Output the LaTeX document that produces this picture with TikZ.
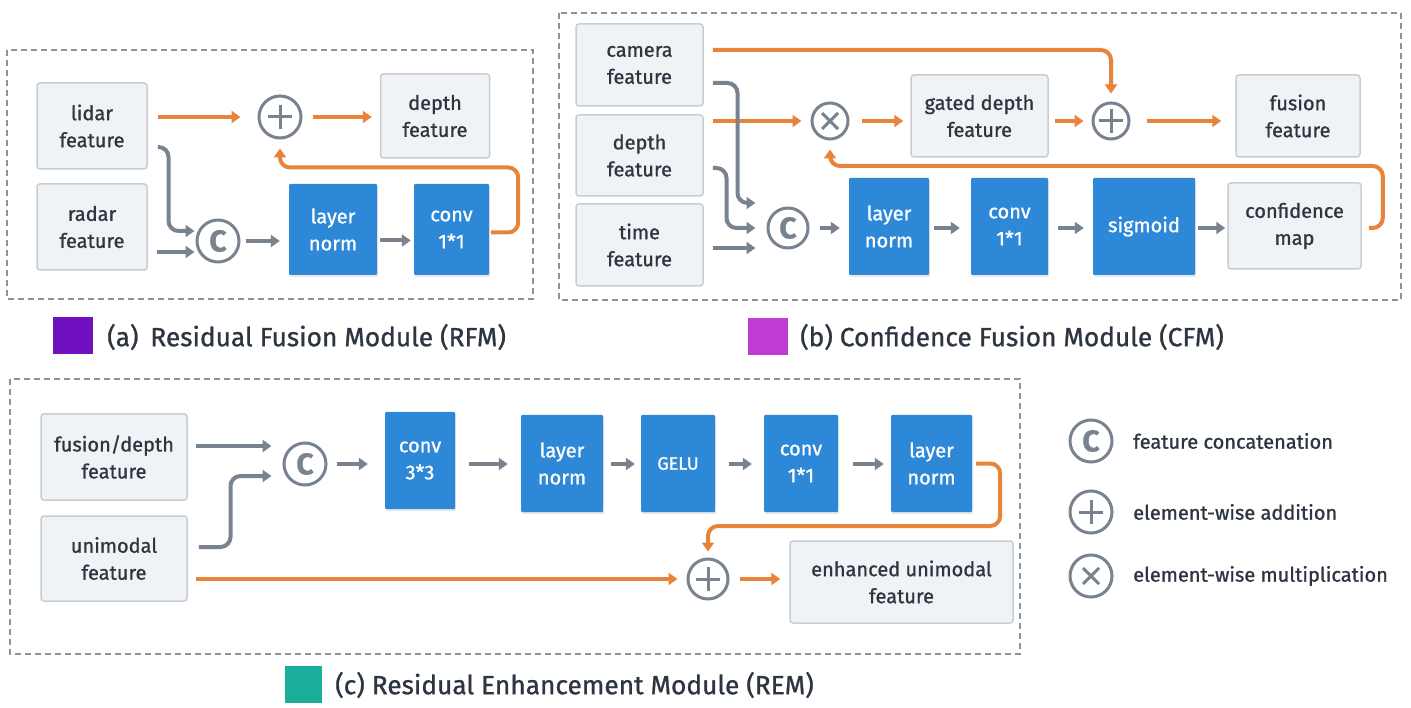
\documentclass[tikz,border=0pt]{standalone}
\usepackage{fontspec}
\setmainfont{Fira Sans}[FakeBold=1.0]
\usetikzlibrary{arrows.meta,calc,shadows}
\definecolor{gline}{HTML}{78838F}
\definecolor{orng}{HTML}{E8843A}
\definecolor{bluebx}{HTML}{2E88D8}
\definecolor{grayfill}{HTML}{F0F3F6}
\definecolor{grayedge}{HTML}{C6CDD4}
\definecolor{txt}{HTML}{2C3540}
\definecolor{framec}{HTML}{8A949E}
\definecolor{purp}{HTML}{7010C0}
\definecolor{magn}{HTML}{C03CD4}
\definecolor{teal}{HTML}{1AAE9B}
\begin{document}
\begin{tikzpicture}[x=1pt,y=-1pt,
  frame/.style={draw=framec, line width=1.6pt, dash pattern=on 6pt off 4pt},
  graybox/.style={draw=grayedge, fill=grayfill, line width=1.5pt, rounded corners=3pt, align=center, text=txt, font=\fontsize{20}{27}\selectfont, inner sep=0pt},
  bluebox/.style={fill=bluebx, align=center, text=white, font=\fontsize{20}{27}\selectfont, inner sep=0pt, rounded corners=1pt, drop shadow={opacity=0.18, shadow xshift=1pt, shadow yshift=-2pt}},
  opc/.style={circle, draw=gline, line width=3pt, fill=white, inner sep=0pt, minimum size=#1},
  concat/.style={opc=#1, text=gline, font=\fontsize{30}{30}\selectfont\bfseries},
  addop/.style={opc=#1, path picture={\draw[gline, line width=3pt] ($(path picture bounding box.center)+(-12,0)$) -- ++(24,0) ($(path picture bounding box.center)+(0,-12)$) -- ++(0,24);}},
  mulop/.style={opc=#1, path picture={\draw[gline, line width=3pt] ($(path picture bounding box.center)+(-8,-8)$) -- ++(16,16) ($(path picture bounding box.center)+(8,-8)$) -- ++(-16,16);}},
  garrow/.style={draw=gline, line width=4pt, -{Triangle[length=9pt,width=12pt]}, rounded corners=10pt},
  oarrow/.style={draw=orng, line width=4pt, -{Triangle[length=9pt,width=12pt]}, rounded corners=10pt},
  swatch/.style={minimum width=#1, minimum height=37pt, inner sep=0pt},
  caption/.style={anchor=west, text=txt, font=\fontsize{26.3}{30}\selectfont, inner sep=0pt},
  legtext/.style={anchor=west, text=txt, font=\fontsize{20}{24}\selectfont, inner sep=0pt}
]
\useasboundingbox[fill=white] (0,0) rectangle (1411,708);

% ---------- frames ----------
\draw[frame] (7,50) rectangle (533,299);
\draw[frame] (559,13) rectangle (1401,300);
\draw[frame] (10,379) rectangle (1020,654);

% ---------- (a) RFM ----------
\node[graybox, minimum width=110pt, minimum height=86pt] (lidar) at (92,126) {lidar\\feature};
\node[graybox, minimum width=110pt, minimum height=86pt] (radar) at (92,227) {radar\\feature};
\node[addop=42pt] (rplus) at (280,117) {};
\node[graybox, minimum width=109pt, minimum height=84pt] (depth) at (435,116) {depth\\feature};
\node[concat=42pt] (rc) at (218,241) {C};
\node[bluebox, minimum width=88pt, minimum height=91pt] (ln1) at (333,229.5) {layer\\norm};
\node[bluebox, minimum width=75pt, minimum height=91pt] (cv1) at (451.5,229.5) {conv\\1*1};

\draw[oarrow] ($(lidar.east)+(10,-9)$) -- ($(rplus.west)+(-17,0)$);
\draw[oarrow, shorten <=10pt, shorten >=8pt] (rplus.east) -- (depth.west |- rplus.east);
\draw[oarrow] ($(cv1.east)+(2,3)$) -| ($(cv1.east)+(29,-62)$) -| ($(rplus.south)+(0,9)$);
\draw[garrow] ($(lidar.east)+(10,21)$) -| ($(rc.west)+(-27,-10)$) -- ($(rc.west)+(-1,-10)$);
\draw[garrow] ($(radar.east)+(9,25)$) -- ($(rc.west)+(-1,11)$);
\draw[garrow, shorten <=5pt, shorten >=9pt] (rc.east) -- (ln1.west |- rc.east);
\draw[garrow, shorten <=3pt, shorten >=3pt] ($(ln1.east)+(0,11)$) -- ($(cv1.west)+(0,11)$);

\node[swatch=40pt, fill=purp] (swa) at (73,336) {};
\node[caption] (capa) at (107,337) {(a)\hspace{0.45em}Residual Fusion Module (RFM)};

% ---------- (b) CFM ----------
\node[graybox, minimum width=127pt, minimum height=82pt] (cam) at (639.5,65) {camera\\feature};
\node[graybox, minimum width=127pt, minimum height=81pt] (dep) at (639.5,155.5) {depth\\feature};
\node[graybox, minimum width=127pt, minimum height=82pt] (tim) at (639.5,245) {time\\feature};
\node[mulop=36pt] (mul) at (830,121) {};
\node[graybox, minimum width=137pt, minimum height=82pt] (gated) at (979.5,116) {gated depth\\feature};
\node[addop=36pt] (fplus) at (1111,121) {};
\node[graybox, minimum width=124pt, minimum height=82pt] (fus) at (1298,116) {fusion\\feature};
\node[concat=40pt] (c2) at (788,228) {C};
\node[bluebox, minimum width=80pt, minimum height=97pt] (ln2) at (889,226.5) {layer\\norm};
\node[bluebox, minimum width=77pt, minimum height=97pt] (cv2) at (1009.5,226.5) {conv\\1*1};
\node[bluebox, minimum width=102pt, minimum height=97pt] (sig) at (1144,226.5) {sigmoid};
\node[graybox, minimum width=133pt, minimum height=86pt] (conf) at (1294.5,226) {confidence\\map};

\draw[oarrow] ($(cam.east)+(9,-15)$) -| ($(fplus.north)+(0,-8)$);
\draw[oarrow] ($(dep.east)+(9,-34.5)$) -- ($(mul.west)+(-9,0)$);
\draw[oarrow, shorten <=12pt, shorten >=7pt] (mul.east) -- (gated.west |- mul.east);
\draw[oarrow, shorten <=6pt, shorten >=8pt] (gated.east |- fplus.west) -- (fplus.west);
\draw[oarrow, shorten <=16pt, shorten >=14pt] (fplus.east) -- (fus.west |- fplus.east);
\draw[oarrow] ($(conf.east)+(7,2)$) -| ($(conf.east)+(21,-60)$) -| ($(mul.south)+(0,9)$);
\draw[garrow] ($(cam.east)+(9,18)$) -| ($(c2.west)+(-29,-25)$) -- ($(c2.west)+(-11,-25)$);
\draw[garrow] ($(dep.east)+(9,12.5)$) -| ($(c2.west)+(-40,0)$) -- ($(c2.west)+(-11,0)$);
\draw[garrow] ($(tim.east)+(9,3)$) -- ($(c2.west)+(-11,20)$);
\draw[garrow, shorten <=10pt, shorten >=9pt] (c2.east) -- (ln2.west |- c2.east);
\draw[garrow, shorten <=5pt, shorten >=11pt] ($(ln2.east)+(0,1.5)$) -- ($(cv2.west)+(0,1.5)$);
\draw[garrow, shorten <=10pt, shorten >=9pt] ($(cv2.east)+(0,1.5)$) -- ($(sig.west)+(0,1.5)$);
\draw[garrow, shorten <=3pt, shorten >=2pt] ($(sig.east)+(0,1.5)$) -- (conf.west |- c2.east);

\node[swatch=40pt, fill=magn] (swb) at (768,336.5) {};
\node[caption] (capb) at (800,337) {(b) Confidence Fusion Module (CFM)};

% ---------- (c) REM ----------
\node[graybox, minimum width=146pt, minimum height=86pt] (fd) at (114,457) {fusion/depth\\feature};
\node[graybox, minimum width=146pt, minimum height=85pt] (uni) at (114,558.5) {unimodal\\feature};
\node[concat=42pt] (c3) at (305,464) {C};
\node[bluebox, minimum width=70pt, minimum height=97pt] (cv3) at (420,460.5) {conv\\3*3};
\node[bluebox, minimum width=82pt, minimum height=97pt] (ln3) at (562,463.5) {layer\\norm};
\node[bluebox, minimum width=74pt, minimum height=97pt, font=\fontsize{18}{20}\selectfont] (gelu) at (678,463.5) {GELU};
\node[bluebox, minimum width=74pt, minimum height=97pt] (cv4) at (801,463.5) {conv\\1*1};
\node[bluebox, minimum width=81pt, minimum height=97pt] (ln4) at (931.5,463.5) {layer\\norm};
\node[graybox, minimum width=223pt, minimum height=82pt] (enh) at (901.5,582) {enhanced unimodal\\feature};
\node[addop=40pt] (p3) at (708,579) {};

\draw[garrow] ($(fd.east)+(8,-11)$) -- ($(c3.west)+(-11,-18)$);
\draw[garrow] ($(uni.east)+(11,-11.5)$) -| ($(c3.west)+(-52,12)$) -- ($(c3.west)+(-11,12)$);
\draw[garrow, shorten <=9pt, shorten >=17pt] (c3.east) -- (cv3.west |- c3.east);
\draw[garrow, shorten <=14pt, shorten >=13pt] (cv3.east |- c3.east) -- (ln3.west |- c3.east);
\draw[garrow, shorten <=8pt, shorten >=6pt] (ln3.east |- c3.east) -- (gelu.west |- c3.east);
\draw[garrow, shorten <=14pt, shorten >=12pt] (gelu.east |- c3.east) -- (cv4.west |- c3.east);
\draw[garrow, shorten <=15pt, shorten >=7pt] (cv4.east |- c3.east) -- (ln4.west |- c3.east);
\draw[oarrow] ($(ln4.east)+(4,0)$) -| ($(ln4.east)+(28,62.5)$) -| ($(p3.north)+(0,-6)$);
\draw[oarrow] ($(uni.east)+(8,20.5)$) -- ($(p3.west)+(-9,0)$);
\draw[oarrow, shorten <=10pt, shorten >=9pt] (p3.east) -- (enh.west |- p3.east);

\node[swatch=37pt, fill=teal] (swc) at (303.5,684.5) {};
\node[caption] (capc) at (335,685) {(c) Residual Enhancement Module (REM)};

% ---------- legend ----------
\node[concat=42pt] (lc) at (1091,441) {C};
\node[addop=42pt] (lp) at (1091,512) {};
\node[mulop=42pt] (lm) at (1091,576) {};
\node[legtext] (tc) at (1133,441) {feature concatenation};
\node[legtext] (tp) at (1133,512) {element-wise addition};
\node[legtext] (tm) at (1133,576) {element-wise multiplication};
\end{tikzpicture}
\end{document}
